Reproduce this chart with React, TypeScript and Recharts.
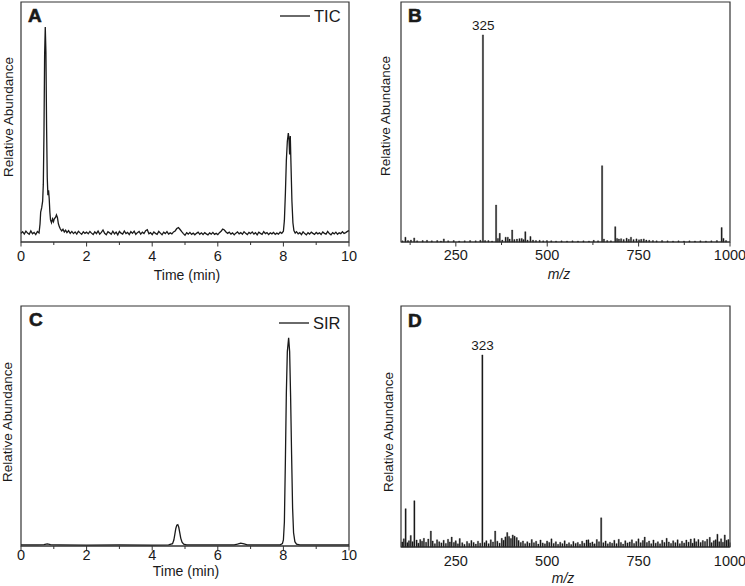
import React from "react";
import { LineChart, Line, BarChart, Bar, XAxis, YAxis, ReferenceArea, ReferenceDot, Legend } from "recharts";

const W = 745;
const H = 586;
const INK = "#1a1a1a";
const FRAME = "#333";
const FONT = "'Liberation Sans', Arial, Helvetica, sans-serif";
const AXIS_H = 40;

// axis ticks
const TIME_TICKS = [0, 1, 2, 3, 4, 5, 6, 7, 8, 9, 10];
const TIME_LABELS = [0, 2, 4, 6, 8, 10];
const MZ_TICKS = [125, 250, 375, 500, 625, 750, 875, 1000];
const MZ_LABELS = [250, 500, 750, 1000];

// A: total ion chromatogram [time min, relative abundance]
const TIC_POINTS: [number, number][] = [
  [0.0, 3.6], [0.05, 4.3], [0.1, 3.3], [0.15, 4.5], [0.2, 3.7], [0.25, 3.2], [0.3, 4.6], [0.35, 3.4], [0.4, 4.0], [0.45, 3.1],
  [0.5, 4.4], [0.55, 3.8], [0.58, 7.5], [0.6, 12.5], [0.63, 14.2], [0.66, 17.0], [0.68, 24], [0.7, 45], [0.72, 78], [0.74, 89.6],
  [0.76, 79], [0.78, 48], [0.8, 27], [0.82, 19.5], [0.84, 21.5], [0.86, 18], [0.88, 12.5], [0.9, 9.2], [0.93, 8.0], [0.96, 9.6],
  [0.99, 8.5], [1.02, 9.9], [1.05, 10.1], [1.08, 11.3], [1.11, 10.2], [1.14, 7.6], [1.17, 6.3], [1.2, 5.4], [1.24, 4.6], [1.28, 5.3],
  [1.32, 4.2], [1.36, 4.9], [1.4, 3.9], [1.45, 4.7], [1.5, 3.6], [1.55, 4.4], [1.6, 3.5], [1.65, 4.2], [1.7, 3.3], [1.75, 4.5],
  [1.8, 3.8], [1.85, 3.2], [1.9, 4.3], [1.95, 3.6], [2.0, 4.1], [2.05, 3.4], [2.1, 4.4], [2.15, 3.7], [2.2, 3.1], [2.25, 4.2],
  [2.3, 3.5], [2.35, 4.6], [2.4, 3.3], [2.45, 4.0], [2.5, 5.0], [2.55, 3.6], [2.6, 3.0], [2.65, 4.3], [2.7, 3.8], [2.75, 3.2],
  [2.8, 4.5], [2.85, 3.4], [2.9, 4.1], [2.95, 3.0], [3.0, 4.4], [3.05, 3.7], [3.1, 3.3], [3.15, 4.6], [3.2, 3.5], [3.25, 4.0],
  [3.3, 3.1], [3.35, 4.3], [3.4, 3.6], [3.45, 4.5], [3.5, 3.2], [3.55, 3.9], [3.6, 4.4], [3.65, 3.3], [3.7, 4.1], [3.75, 3.5],
  [3.8, 4.7], [3.85, 5.1], [3.9, 3.4], [3.95, 3.9], [4.0, 3.1], [4.05, 4.2], [4.1, 3.6], [4.15, 3.2], [4.2, 4.4], [4.25, 3.7],
  [4.3, 3.0], [4.35, 4.1], [4.4, 3.5], [4.45, 4.3], [4.5, 3.3], [4.55, 3.8], [4.6, 3.4], [4.65, 4.2], [4.7, 4.6], [4.75, 5.6],
  [4.8, 6.0], [4.85, 5.2], [4.9, 4.3], [4.95, 3.5], [5.0, 2.8], [5.05, 3.9], [5.1, 3.3], [5.15, 4.0], [5.2, 3.2], [5.25, 3.7],
  [5.3, 3.0], [5.35, 3.6], [5.4, 4.1], [5.45, 3.2], [5.5, 3.8], [5.55, 3.1], [5.6, 3.9], [5.65, 3.4], [5.7, 3.0], [5.75, 3.8],
  [5.8, 3.3], [5.85, 4.0], [5.9, 3.2], [5.95, 3.6], [6.0, 3.1], [6.05, 3.9], [6.1, 4.5], [6.15, 5.4], [6.2, 5.0], [6.25, 4.2],
  [6.3, 3.6], [6.35, 4.1], [6.4, 3.3], [6.45, 3.8], [6.5, 3.0], [6.55, 3.7], [6.6, 4.2], [6.65, 3.4], [6.7, 3.9], [6.75, 3.2],
  [6.8, 4.3], [6.85, 3.6], [6.9, 3.1], [6.95, 4.0], [7.0, 3.5], [7.05, 4.2], [7.1, 3.3], [7.15, 3.9], [7.2, 3.0], [7.25, 4.1],
  [7.3, 3.6], [7.35, 3.2], [7.4, 4.3], [7.45, 3.5], [7.5, 3.9], [7.55, 3.1], [7.6, 3.8], [7.65, 3.4], [7.7, 4.0], [7.75, 3.2],
  [7.8, 3.7], [7.85, 3.3], [7.9, 4.1], [7.95, 3.6], [8.0, 4.5], [8.03, 9], [8.06, 20], [8.09, 34], [8.12, 42], [8.15, 45.4],
  [8.17, 43], [8.19, 36.5], [8.21, 44.2], [8.23, 33], [8.26, 17], [8.29, 8], [8.32, 4.8], [8.36, 3.7], [8.4, 4.3], [8.45, 3.4],
  [8.5, 3.9], [8.55, 3.1], [8.6, 4.2], [8.65, 3.5], [8.7, 3.0], [8.75, 3.9], [8.8, 3.3], [8.85, 4.1], [8.9, 3.6], [8.95, 3.2],
  [9.0, 4.0], [9.05, 3.4], [9.1, 3.8], [9.15, 3.1], [9.2, 4.2], [9.25, 3.6], [9.3, 3.3], [9.35, 4.4], [9.4, 3.5], [9.45, 3.0],
  [9.5, 3.9], [9.55, 3.4], [9.6, 4.1], [9.65, 3.2], [9.7, 3.8], [9.75, 3.5], [9.8, 4.3], [9.85, 3.6], [9.9, 3.9], [9.95, 4.4],
  [10.0, 4.7],
];

// C: selected ion recording [time min, relative abundance]
const SIR_POINTS: [number, number][] = [
  [0, 0.5], [0.5, 0.5], [0.7, 0.6], [0.8, 0.9], [0.9, 0.6], [1.2, 0.5], [2, 0.4], [3, 0.5], [4, 0.4], [4.5, 0.5],
  [4.62, 1.0], [4.66, 2.5], [4.69, 4.8], [4.72, 7.3], [4.75, 8.7], [4.78, 8.9], [4.81, 7.8], [4.84, 5.6], [4.87, 3.3], [4.91, 1.6],
  [4.96, 0.8], [5.05, 0.5], [6, 0.5], [6.5, 0.5], [6.6, 0.8], [6.7, 1.2], [6.8, 0.9], [6.9, 0.5], [7.9, 0.5], [7.97, 1.0],
  [8.0, 2.5], [8.03, 10], [8.06, 35], [8.09, 64], [8.12, 81], [8.16, 86.7], [8.19, 81], [8.22, 62], [8.25, 38], [8.28, 16],
  [8.31, 5.5], [8.35, 1.8], [8.4, 0.8], [8.5, 0.5], [9, 0.5], [10, 0.5],
];

// B: mass spectrum of the 8.2 min peak [m/z, relative abundance]
const MS_B_PEAKS: [number, number][] = [
  [105, 0.5], [113, 2.0], [120, 0.6], [128, 0.8], [137, 1.7], [145, 0.5], [160, 0.6], [172, 0.7], [185, 0.5], [200, 0.6],
  [210, 0.4], [218, 1.3], [230, 0.5], [245, 0.6], [260, 0.4], [275, 0.5], [290, 0.6], [305, 0.5], [318, 0.7], [325, 86.3],
  [331, 0.6], [340, 0.6], [350, 0.4], [361, 15.4], [366, 1.5], [371, 3.6], [378, 0.8], [387, 2.0], [393, 2.0], [398, 1.2],
  [405, 5.0], [411, 1.0], [418, 1.2], [425, 1.4], [431, 1.5], [436, 1.0], [441, 4.3], [447, 0.8], [455, 2.3], [462, 0.8],
  [470, 0.6], [480, 0.7], [490, 0.5], [500, 0.6], [512, 0.5], [525, 0.4], [540, 0.5], [555, 0.4], [570, 0.5], [585, 0.4],
  [600, 0.5], [615, 0.4], [628, 0.7], [640, 0.5], [651, 31.8], [656, 1.2], [665, 0.6], [675, 0.5], [687, 6.4], [692, 1.5],
  [697, 1.2], [703, 1.4], [710, 1.0], [718, 1.6], [724, 1.1], [730, 2.0], [737, 1.0], [745, 1.3], [752, 0.9], [758, 1.1],
  [765, 1.3], [772, 0.8], [780, 0.7], [790, 0.6], [800, 0.5], [815, 0.6], [830, 0.5], [845, 0.4], [860, 0.5], [875, 0.4],
  [890, 0.5], [905, 0.4], [920, 0.5], [935, 0.4], [950, 0.5], [965, 0.6], [978, 6.0], [983, 1.5], [990, 0.6],
];
const MS_B_LABEL = 325;

// D: mass spectrum of the 4.8 min peak [m/z, relative abundance]
const MS_D_PEAKS: [number, number][] = [
  [104, 2.1], [108, 3.4], [113, 15.9], [118, 1.8], [122, 2.6], [127, 4.8], [132, 2.2], [137, 19.2], [143, 2.9], [148, 1.6],
  [153, 3.1], [158, 2.4], [163, 3.6], [169, 2.0], [175, 3.3], [182, 6.6], [187, 2.5], [193, 1.4], [199, 3.0], [205, 2.2],
  [211, 1.7], [217, 2.8], [223, 1.5], [229, 3.2], [234, 2.1], [239, 4.1], [245, 1.9], [250, 2.6], [256, 1.3], [261, 3.5],
  [268, 1.8], [274, 1.1], [281, 2.3], [287, 1.5], [293, 2.7], [299, 1.9], [305, 1.2], [311, 2.4], [317, 1.6], [323, 79.7],
  [329, 1.8], [334, 2.6], [340, 1.4], [346, 3.0], [352, 2.1], [358, 6.6], [364, 2.4], [370, 1.6], [376, 3.6], [381, 2.8],
  [386, 4.2], [391, 6.0], [396, 4.4], [401, 3.5], [406, 5.0], [411, 4.5], [417, 3.9], [422, 2.7], [428, 1.9],
  [434, 2.5], [440, 1.4], [446, 2.2], [452, 1.6], [458, 3.1], [464, 1.8], [470, 2.4], [476, 1.2], [482, 2.9], [488, 1.7],
  [494, 1.3], [500, 2.5], [506, 1.9], [512, 3.4], [518, 1.5], [524, 2.2], [530, 1.1], [536, 2.0], [542, 1.4], [548, 2.6],
  [554, 1.2], [560, 1.8], [566, 1.0], [572, 2.3], [578, 1.5], [584, 1.9], [590, 1.1], [596, 2.4], [602, 1.6], [608, 2.9],
  [613, 3.0], [618, 1.7], [624, 2.1], [630, 1.3], [636, 3.1], [642, 2.2], [648, 12.1], [654, 1.8], [660, 2.5], [666, 1.3],
  [672, 2.0], [678, 1.6], [684, 2.8], [690, 1.4], [696, 3.2], [702, 1.9], [708, 1.2], [714, 2.6], [720, 1.7], [726, 2.1],
  [732, 3.0], [738, 1.5], [744, 2.3], [750, 3.4], [756, 1.8], [762, 2.7], [767, 4.1], [773, 1.9], [779, 2.5], [785, 1.4],
  [791, 2.9], [797, 1.6], [803, 2.2], [809, 1.3], [815, 2.8], [821, 1.9], [827, 3.6], [833, 2.1], [839, 1.5], [845, 2.6],
  [851, 1.8], [857, 3.0], [863, 1.4], [869, 2.4], [875, 1.7], [881, 2.9], [887, 2.0], [893, 3.3], [898, 1.6], [903, 3.5],
  [908, 2.2], [914, 3.1], [920, 1.9], [926, 2.7], [932, 2.3], [938, 3.2], [945, 4.0], [950, 1.8], [956, 2.6], [961, 3.0],
  [966, 5.3], [971, 2.2], [976, 3.4], [981, 2.0], [986, 5.0], [991, 2.8], [996, 3.1],
];
const MS_D_LABEL = 323;

type Box = { left: number; right: number; top: number; bottom: number };
type Spot = { x: number; y: number };

interface PanelLayout {
  box: Box;
  tickDy: number;
  inward?: boolean;
  title: Spot;
  yTitle: Spot;
  letter: Spot;
  legend?: Spot;
}

const LAYOUT_A: PanelLayout = { box: { left: 21, right: 349, top: 2, bottom: 242 }, tickDy: 18.5, title: { x: 187, y: 280 }, yTitle: { x: 13, y: 117 }, letter: { x: 28, y: 21.7 }, legend: { x: 280, y: 6 } };
const LAYOUT_B: PanelLayout = { box: { left: 401, right: 730, top: 2, bottom: 242 }, tickDy: 18.3, title: { x: 559, y: 279 }, yTitle: { x: 390, y: 116 }, letter: { x: 408, y: 21.7 } };
const LAYOUT_C: PanelLayout = { box: { left: 21, right: 349, top: 306, bottom: 546 }, tickDy: 13.5, title: { x: 186, y: 575.5 }, yTitle: { x: 12, y: 422 }, letter: { x: 29, y: 325.7 }, legend: { x: 279, y: 313 } };
const LAYOUT_D: PanelLayout = { box: { left: 401, right: 730, top: 306, bottom: 547 }, tickDy: 19.4, inward: true, title: { x: 563, y: 583 }, yTitle: { x: 393, y: 432 }, letter: { x: 408, y: 326.7 } };

const marginOf = (b: Box) => ({ left: b.left, right: W - b.right, top: b.top, bottom: H - b.bottom - AXIS_H });

const makeTick = (labels: number[], tickDy: number, inward?: boolean) => (props: any) => {
  const { x, y, payload } = props;
  const major = labels.includes(payload.value);
  const len = major ? 4.5 : 3;
  return (
    <g>
      <line x1={x} x2={x} y1={y} y2={inward ? y - len : y + len} stroke={FRAME} strokeWidth={1} />
      {major && (
        <text x={x} y={y + tickDy} textAnchor="middle" fontSize={14.5} fontFamily={FONT} fill={INK}>
          {payload.value}
        </text>
      )}
    </g>
  );
};

const LegendLine = ({ payload }: { payload?: Array<{ value: string }> }) => (
  <div style={{ display: "flex", alignItems: "center", height: 20, fontFamily: FONT, fontSize: 16.5, color: INK }}>
    {(payload ?? []).map((p) => (
      <React.Fragment key={p.value}>
        <svg width={30} height={20}>
          <line x1={0} x2={30} y1={10} y2={10} stroke={INK} strokeWidth={1.3} />
        </svg>
        <span style={{ marginLeft: 4, lineHeight: "20px" }}>{p.value}</span>
      </React.Fragment>
    ))}
  </div>
);

const PanelText = ({ layout, letter, title, italic }: { layout: PanelLayout; letter: string; title: string; italic?: boolean }) => (
  <>
    <text x={layout.letter.x} y={layout.letter.y} fontSize={19} fontWeight="bold" fontFamily={FONT} fill={INK} stroke={INK} strokeWidth={0.6}>{letter}</text>
    <text x={layout.yTitle.x} y={layout.yTitle.y} transform={`rotate(-90 ${layout.yTitle.x} ${layout.yTitle.y})`} textAnchor="middle" fontSize={13.5} fontFamily={FONT} fill={INK}>Relative Abundance</text>
    <text x={layout.title.x} y={layout.title.y} textAnchor="middle" fontSize={14} fontFamily={FONT} fill={INK} fontStyle={italic ? "italic" : "normal"}>{title}</text>
  </>
);

function Chromatogram({ points, name, letter, layout }: { points: [number, number][]; name: string; letter: string; layout: PanelLayout }) {
  const data = points.map(([t, v]) => ({ t, v }));
  return (
    <LineChart width={W} height={H} data={data} margin={marginOf(layout.box)}>
      <XAxis dataKey="t" type="number" domain={[0, 10]} ticks={TIME_TICKS} interval={0} height={AXIS_H}
        tickSize={0} tickMargin={0} tickLine={false} axisLine={{ stroke: FRAME, strokeWidth: 1.2 }}
        tick={makeTick(TIME_LABELS, layout.tickDy, layout.inward)} />
      <YAxis domain={[0, 100]} width={0} tick={false} tickLine={false} axisLine={false} />
      <ReferenceArea x1={0} x2={10} y1={0} y2={100} fill="none" fillOpacity={0} stroke={FRAME} strokeWidth={1.2} />
      <Line dataKey="v" name={name} type="linear" stroke={INK} strokeWidth={1.3} dot={false} isAnimationActive={false} />
      {layout.legend && (
        <Legend layout="vertical" align="center" verticalAlign="middle" content={<LegendLine />}
          wrapperStyle={{ left: layout.legend.x, top: layout.legend.y, width: "auto", height: "auto" }} />
      )}
      <PanelText layout={layout} letter={letter} title="Time (min)" />
    </LineChart>
  );
}

function Spectrum({ peaks, labelMz, letter, layout }: { peaks: [number, number][]; labelMz: number; letter: string; layout: PanelLayout }) {
  const data = peaks.map(([mz, ab]) => ({ mz, ab }));
  const labelled = data.find((d) => d.mz === labelMz);
  return (
    <BarChart width={W} height={H} data={data} margin={marginOf(layout.box)}>
      <XAxis dataKey="mz" type="number" domain={[100, 1000]} ticks={MZ_TICKS} interval={0} height={AXIS_H}
        tickSize={0} tickMargin={0} tickLine={false} axisLine={{ stroke: FRAME, strokeWidth: 1.2 }}
        tick={makeTick(MZ_LABELS, layout.tickDy, layout.inward)} />
      <YAxis domain={[0, 100]} width={0} tick={false} tickLine={false} axisLine={false} />
      <ReferenceArea x1={100} x2={1000} y1={0} y2={100} fill="none" fillOpacity={0} stroke={FRAME} strokeWidth={1.2} />
      <Bar dataKey="ab" fill={INK} stroke={INK} strokeWidth={0.35} barSize={1.2} isAnimationActive={false} />
      {labelled && (
        <ReferenceDot x={labelled.mz} y={labelled.ab} r={0} stroke="none" fill="none"
          label={{ value: String(labelled.mz), position: "top", offset: 5, fontSize: 13.5, fontFamily: FONT, fill: INK }} />
      )}
      <PanelText layout={layout} letter={letter} title="m/z" italic />
    </BarChart>
  );
}

const layer: React.CSSProperties = { position: "absolute", left: 0, top: 0, width: W, height: H };

export default function App() {
  return (
    <div style={{ position: "absolute", left: 0, top: 0, width: W, height: H, background: "#fff", fontFamily: FONT }}>
      <div style={layer}><Chromatogram points={TIC_POINTS} name="TIC" letter="A" layout={LAYOUT_A} /></div>
      <div style={layer}><Spectrum peaks={MS_B_PEAKS} labelMz={MS_B_LABEL} letter="B" layout={LAYOUT_B} /></div>
      <div style={layer}><Chromatogram points={SIR_POINTS} name="SIR" letter="C" layout={LAYOUT_C} /></div>
      <div style={layer}><Spectrum peaks={MS_D_PEAKS} labelMz={MS_D_LABEL} letter="D" layout={LAYOUT_D} /></div>
    </div>
  );
}
